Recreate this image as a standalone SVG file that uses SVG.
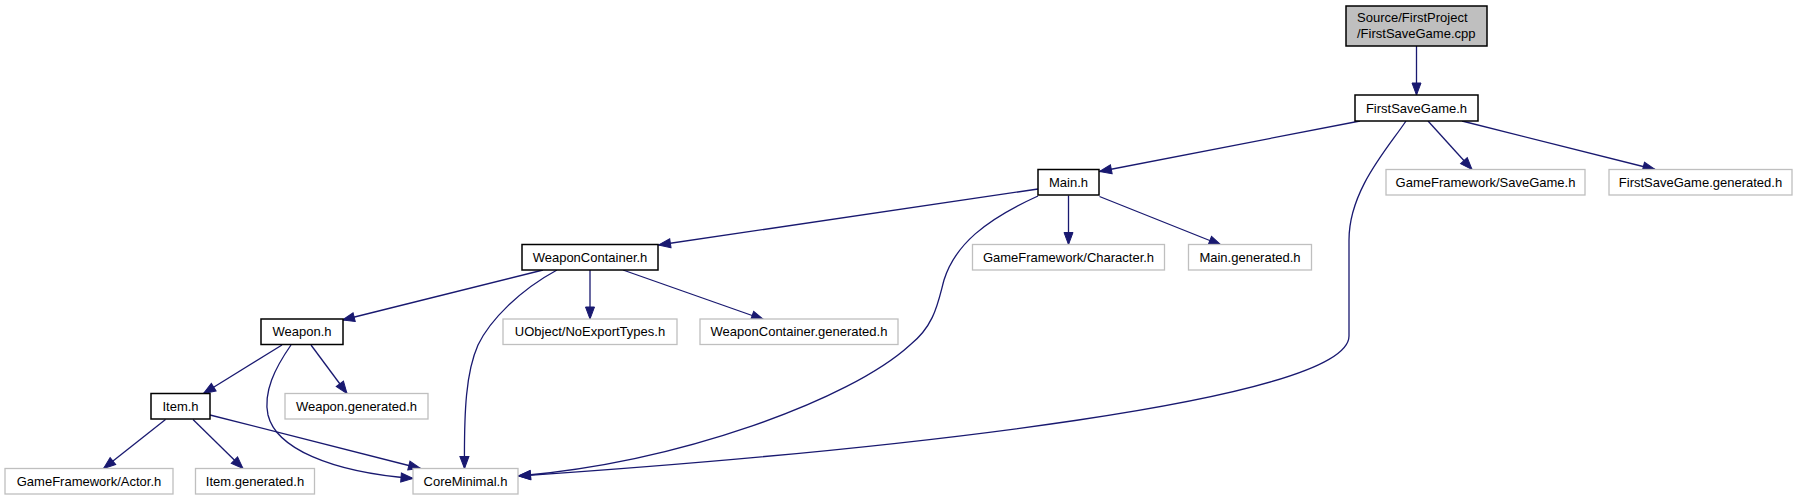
<svg xmlns="http://www.w3.org/2000/svg" width="1797" height="500" viewBox="0 0 1797 500">
<defs>
<marker id="arr" markerWidth="13" markerHeight="10" refX="12" refY="4.5" orient="auto" markerUnits="userSpaceOnUse" overflow="visible"><path d="M0,0 L12,4.5 L0,9 z" fill="#191970" stroke="#191970" stroke-width="1"/></marker>
</defs>
<style>
.e{fill:none;stroke:#191970;stroke-width:1.3;marker-end:url(#arr)}
.d{fill:#ffffff;stroke:#000000;stroke-width:1.5}
.r{fill:#bfbfbf;stroke:#000000;stroke-width:1.5}
.u{fill:#ffffff;stroke:#bfbfbf;stroke-width:1.3}
text{font-family:"Liberation Sans",Arial,sans-serif;font-size:13px;fill:#000000}
.c{text-anchor:middle}
</style>
<rect width="1797" height="500" fill="#ffffff"/>
<g id="connectors">
<path class="e" d="M1416.5,46 L1416.5,95"/>
<path class="e" d="M1360,121 L1099.5,171.5"/>
<path class="e" d="M1428,121 L1472,169.5"/>
<path class="e" d="M1462,121 L1655,169.5"/>
<path class="e" d="M1406,121 C1388,148 1349,190 1349,240 L1349,336 C1349,400 900,450 518.5,476"/>
<path class="e" d="M1038,189 L658.5,245"/>
<path class="e" d="M1038,196 C985,220 955,245 944,280 C938,302 935,325 910,345 C850,400 680,462 518.5,476"/>
<path class="e" d="M1068.5,195.5 L1068.5,244.5"/>
<path class="e" d="M1099.5,196.5 L1221,245"/>
<path class="e" d="M543,270 L342.5,320"/>
<path class="e" d="M557,270 C520,290 490,320 478,345 C466,372 464,410 464.5,468.5"/>
<path class="e" d="M590,270 L590,319"/>
<path class="e" d="M623,270 L763.5,319.5"/>
<path class="e" d="M282,345 L203.5,393.5"/>
<path class="e" d="M291,345 C275,368 263,392 268,415 C276,448 330,472 413,478.5"/>
<path class="e" d="M311,345 L347,393.5"/>
<path class="e" d="M165.5,419.5 L103.5,468.5"/>
<path class="e" d="M193,419.5 L243,468.5"/>
<path class="e" d="M210,415 L420.5,468.5"/>
</g>
<g id="node-root"><rect class="r" x="1346" y="6" width="141" height="40"/><text x="1357" y="21.5">Source/FirstProject</text><text x="1357" y="37.5">/FirstSaveGame.cpp</text></g>
<g id="node-firstsavegame"><rect class="d" x="1355" y="95" width="123" height="26"/><text class="c" x="1416.5" y="112.5">FirstSaveGame.h</text></g>
<g id="node-main"><rect class="d" x="1038" y="169.5" width="61" height="25.5"/><text class="c" x="1068.5" y="186.5">Main.h</text></g>
<g id="node-savegame"><rect class="u" x="1386" y="169.5" width="199" height="25.5"/><text class="c" x="1485.5" y="186.5">GameFramework/SaveGame.h</text></g>
<g id="node-fsg-generated"><rect class="u" x="1609" y="169.5" width="183" height="25.5"/><text class="c" x="1700.5" y="186.5">FirstSaveGame.generated.h</text></g>
<g id="node-weaponcontainer"><rect class="d" x="522" y="244.5" width="136" height="25.5"/><text class="c" x="590" y="261.5">WeaponContainer.h</text></g>
<g id="node-character"><rect class="u" x="972.5" y="244.5" width="192" height="25.5"/><text class="c" x="1068.5" y="261.5">GameFramework/Character.h</text></g>
<g id="node-main-generated"><rect class="u" x="1188.5" y="244.5" width="123" height="25.5"/><text class="c" x="1250" y="261.5">Main.generated.h</text></g>
<g id="node-noexporttypes"><rect class="u" x="503" y="319" width="174" height="25.5"/><text class="c" x="590" y="336">UObject/NoExportTypes.h</text></g>
<g id="node-wc-generated"><rect class="u" x="700" y="319" width="198" height="25.5"/><text class="c" x="799" y="336">WeaponContainer.generated.h</text></g>
<g id="node-weapon"><rect class="d" x="261" y="319" width="82" height="25.5"/><text class="c" x="302" y="336">Weapon.h</text></g>
<g id="node-item"><rect class="d" x="151" y="393.5" width="59" height="25.5"/><text class="c" x="180.5" y="410.5">Item.h</text></g>
<g id="node-weapon-generated"><rect class="u" x="285" y="393.5" width="143" height="25.5"/><text class="c" x="356.5" y="410.5">Weapon.generated.h</text></g>
<g id="node-actor"><rect class="u" x="5" y="468.5" width="168" height="25.5"/><text class="c" x="89" y="485.5">GameFramework/Actor.h</text></g>
<g id="node-item-generated"><rect class="u" x="195.5" y="468.5" width="119" height="25.5"/><text class="c" x="255" y="485.5">Item.generated.h</text></g>
<g id="node-coreminimal"><rect class="u" x="413" y="468.5" width="105" height="25.5"/><text class="c" x="465.5" y="485.5">CoreMinimal.h</text></g>
</svg>
